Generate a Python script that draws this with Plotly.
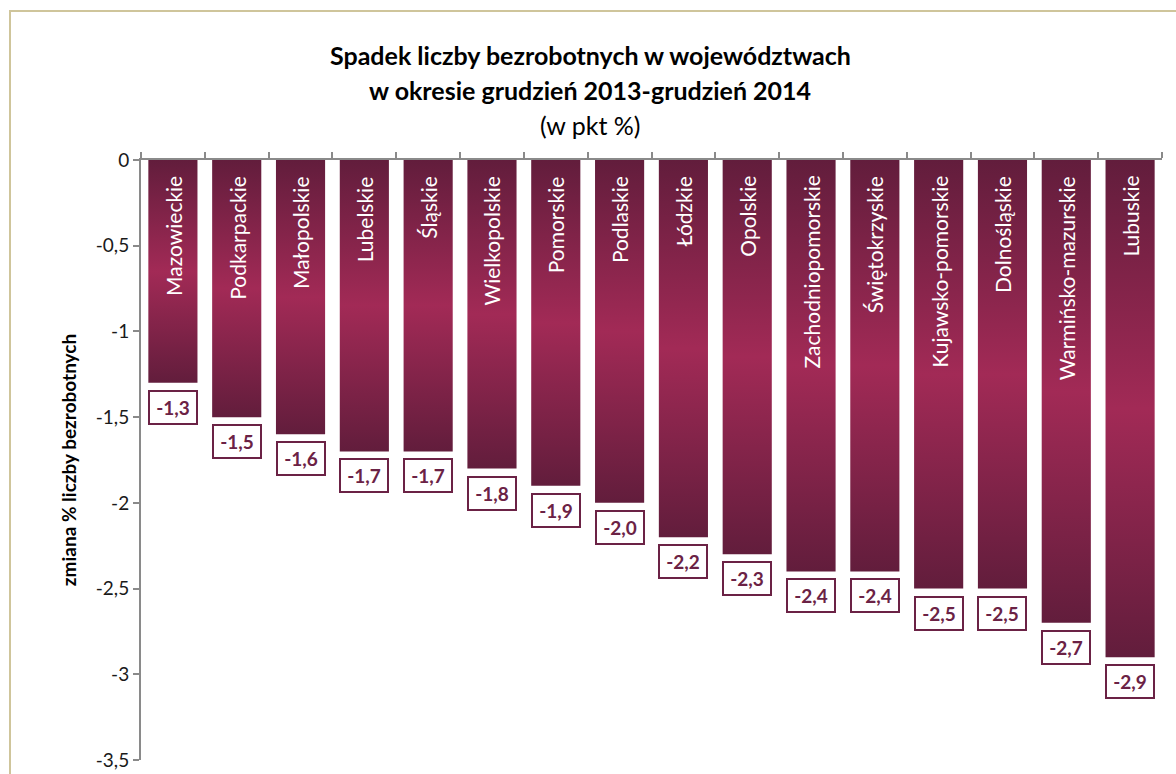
import plotly.graph_objects as go

# dane: zmiana liczby bezrobotnych (pkt %), XII 2013 - XII 2014
wojewodztwa = [
    "Mazowieckie", "Podkarpackie", "Małopolskie", "Lubelskie", "Śląskie",
    "Wielkopolskie", "Pomorskie", "Podlaskie", "Łódzkie", "Opolskie",
    "Zachodniopomorskie", "Świętokrzyskie", "Kujawsko-pomorskie",
    "Dolnośląskie", "Warmińsko-mazurskie", "Lubuskie",
]
zmiana = [-1.3, -1.5, -1.6, -1.7, -1.7, -1.8, -1.9, -2.0,
          -2.2, -2.3, -2.4, -2.4, -2.5, -2.5, -2.7, -2.9]
y_ticks = [0, -0.5, -1, -1.5, -2, -2.5, -3, -3.5]
y_ticktext = ["0", "-0,5", "-1", "-1,5", "-2", "-2,5", "-3", "-3,5"]
tytul = [
    "<b>Spadek liczby bezrobotnych w województwach</b>",
    "<b>w okresie grudzień 2013-grudzień 2014</b>",
    "(w pkt %)",
]

DARK = "#621D3C"
LIGHT = "#A22A56"
LABEL = "#6B2245"
FONT = "Lato"
HALF = 0.385
PLOT_H = 600  # wysokość obszaru wykresu w px

fig = go.Figure()

for i, (name, v) in enumerate(zip(wojewodztwa, zmiana)):
    fig.add_trace(go.Scatter(
        x=[i - HALF, i + HALF, i + HALF, i - HALF, i - HALF],
        y=[0, 0, v, v, 0],
        mode="lines", line=dict(width=0),
        fill="toself",
        fillgradient=dict(type="vertical",
                          colorscale=[[0, DARK], [0.5, LIGHT], [1, DARK]]),
        hoverinfo="text", hovertext=f"{name}: {v}",
        showlegend=False,
    ))
    # nazwa województwa w słupku
    fig.add_annotation(
        x=i, y=0, xref="x", yref="y", text=name, showarrow=False,
        textangle=-90, yanchor="top", yshift=-14,
        font=dict(family=FONT, size=21, color="white"),
    )
    # wartość pod słupkiem
    fig.add_annotation(
        x=i, y=v, xref="x", yref="y",
        text=f"<b>{v:.1f}</b>".replace(".", ","), showarrow=False,
        yanchor="top", yshift=-7, width=42, height=27, borderpad=2,
        bgcolor="white", bordercolor=LABEL, borderwidth=2,
        font=dict(family=FONT, size=19, color=LABEL),
    )

# tytuł – trzy linie
for line, ypix in zip(tytul, [55, 90, 125]):
    fig.add_annotation(
        x=0.5 + (590 - 651.5) / 1021, xref="paper",
        y=1 + (160 - ypix) / PLOT_H, yref="paper",
        text=line, showarrow=False, xanchor="center", yanchor="middle",
        font=dict(family=FONT, size=25, color="black"),
    )

fig.update_layout(
    width=1176, height=774,
    paper_bgcolor="white", plot_bgcolor="white",
    margin=dict(l=141, r=14, t=160, b=14, autoexpand=False),
    font=dict(family=FONT, color="#1a1a1a"),
    xaxis=dict(
        range=[-0.5, 15.5], side="top", showgrid=False, zeroline=False,
        showline=True, linecolor="#8a8a8a", linewidth=2,
        tickvals=[k - 0.5 for k in range(len(wojewodztwa) + 1)],
        ticks="outside", ticklen=6, tickcolor="#8a8a8a", tickwidth=2,
        showticklabels=False, fixedrange=True, automargin=False,
    ),
    yaxis=dict(
        range=[-3.5, 0], showgrid=False, zeroline=False,
        showline=True, linecolor="#8a8a8a", linewidth=2,
        tickvals=y_ticks, ticktext=y_ticktext, automargin=False,
        ticks="outside", ticklen=6, tickcolor="#8a8a8a", tickwidth=2,
        tickfont=dict(family=FONT, size=19, color="#1a1a1a"),
        title=dict(text="<b>zmiana % liczby bezrobotnych</b>",
                   font=dict(family=FONT, size=19, color="black"),
                   standoff=14),
    ),
    shapes=[dict(
        type="rect", xref="paper", yref="paper",
        x0=(10 - 141) / 1021, x1=1.05, y0=-0.1, y1=1 + (160 - 11) / PLOT_H,
        line=dict(color="#CFC59B", width=2), fillcolor="rgba(0,0,0,0)",
        layer="below",
    )],
)

fig.write_html("out.html", config={"displayModeBar": False},
               post_script="document.body.style.margin='0';")
